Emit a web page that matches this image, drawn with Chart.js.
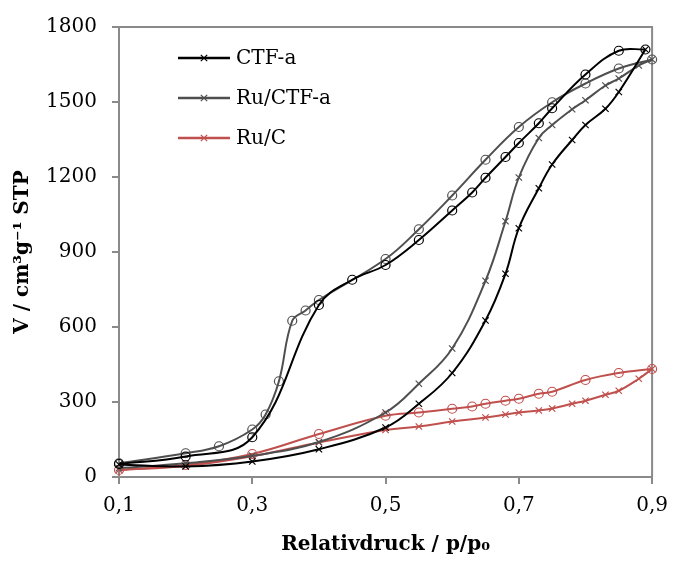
<!DOCTYPE html>
<html>
<head>
<meta charset="utf-8">
<script src="https://cdn.jsdelivr.net/npm/chart.js@4.4.1/dist/chart.umd.min.js"></script>
<style>
  html, body { margin: 0; padding: 0; background: #fff; }
  #wrap { width: 678px; height: 561px; }
</style>
</head>
<body>
<div id="wrap"><canvas id="chart-container" width="678" height="561"></canvas></div>
<script>
// tick labels
const x_ticks = [0.1, 0.3, 0.5, 0.7, 0.9];
const y_ticks = [0, 300, 600, 900, 1200, 1500, 1800];

// CTF-a, adsorption (x) and desorption (o)
const ctf_ads_p = [0.1, 0.2, 0.3, 0.4, 0.5, 0.55, 0.6, 0.65, 0.68, 0.7, 0.73, 0.75, 0.78, 0.8, 0.83, 0.85, 0.89];
const ctf_ads_v = [50, 42, 62, 111, 198, 293, 416, 626, 813, 995, 1155, 1250, 1348, 1408, 1473, 1540, 1710];
const ctf_des_p = [0.89, 0.85, 0.8, 0.75, 0.73, 0.7, 0.68, 0.65, 0.63, 0.6, 0.55, 0.5, 0.45, 0.4, 0.3, 0.2, 0.1];
const ctf_des_v = [1710, 1705, 1610, 1475, 1415, 1336, 1280, 1197, 1138, 1066, 948, 848, 789, 688, 159, 82, 52];

// Ru/CTF-a
const ructf_ads_p = [0.1, 0.2, 0.3, 0.4, 0.5, 0.55, 0.6, 0.65, 0.68, 0.7, 0.73, 0.75, 0.78, 0.8, 0.83, 0.85, 0.88, 0.9];
const ructf_ads_v = [35, 55, 85, 140, 258, 373, 514, 785, 1023, 1198, 1356, 1408, 1471, 1507, 1566, 1594, 1646, 1670];
const ructf_des_p = [0.9, 0.85, 0.8, 0.75, 0.7, 0.65, 0.6, 0.55, 0.5, 0.4, 0.38, 0.36, 0.34, 0.32, 0.3, 0.25, 0.2, 0.1];
const ructf_des_v = [1670, 1634, 1574, 1499, 1400, 1269, 1126, 991, 872, 708, 666, 625, 383, 250, 190, 123, 95, 55];

// Ru/C
const ruc_ads_p = [0.1, 0.2, 0.3, 0.4, 0.5, 0.55, 0.6, 0.65, 0.68, 0.7, 0.73, 0.75, 0.78, 0.8, 0.83, 0.85, 0.88, 0.9];
const ruc_ads_v = [28, 44, 83, 138, 188, 202, 222, 238, 250, 258, 266, 274, 293, 305, 329, 345, 393, 432];
const ruc_des_p = [0.9, 0.85, 0.8, 0.75, 0.73, 0.7, 0.68, 0.65, 0.63, 0.6, 0.55, 0.5, 0.4, 0.3, 0.2, 0.1];
const ruc_des_v = [432, 416, 388, 341, 333, 313, 305, 293, 282, 273, 258, 245, 172, 92, 48, 28];

const FONT = "'DejaVu Serif', serif";
const AXIS_GREY = '#8a8a8a';

function pts(p, v) {
    return p.map((x, i) => ({x: x, y: v[i]}));
}

function series(label, p, v, color, marker, inLegend) {
    return {
        label: label,
        data: pts(p, v),
        showLine: true,
        borderColor: color,
        backgroundColor: 'rgba(0,0,0,0)',
        borderWidth: 2,
        tension: 0.4,
        pointStyle: marker,
        pointRadius: 4.5,
        pointBorderWidth: 1.2,
        pointBorderColor: color,
        pointBackgroundColor: 'rgba(0,0,0,0)',
        clip: false,
        inLegend: inLegend
    };
}

// legend drawn inside the plot, top left
const inner_legend = {
    id: 'innerLegend',
    afterDatasetsDraw(chart) {
        const ctx = chart.ctx;
        let row = 0;
        ctx.save();
        for (let ds of chart.data.datasets) {
            if (!ds.inLegend) continue;
            const y = 58 + row * 40;
            ctx.strokeStyle = ds.borderColor;
            ctx.lineWidth = 2.5;
            ctx.beginPath();
            ctx.moveTo(178, y);
            ctx.lineTo(230, y);
            ctx.stroke();
            ctx.lineWidth = 1.2;
            Chart.helpers.drawPoint(ctx, {pointStyle: 'crossRot', radius: 4.5, rotation: 0, borderWidth: 1.2}, 204, y);
            ctx.fillStyle = '#000';
            ctx.font = '20px ' + FONT;
            ctx.textBaseline = 'middle';
            ctx.textAlign = 'left';
            ctx.fillText(ds.label, 236, y + 1);
            row++;
        }
        ctx.restore();
    }
};

// top and right frame of the plot area
const plot_frame = {
    id: 'plotFrame',
    beforeDatasetsDraw(chart) {
        const a = chart.chartArea;
        const ctx = chart.ctx;
        ctx.save();
        ctx.strokeStyle = AXIS_GREY;
        ctx.lineWidth = 2;
        ctx.beginPath();
        ctx.moveTo(a.left, a.top);
        ctx.lineTo(a.right, a.top);
        ctx.lineTo(a.right, a.bottom);
        ctx.stroke();
        ctx.restore();
    }
};

const canv = document.querySelector('#chart-container');
new Chart(canv, {
    type: 'scatter',
    data: {
        datasets: [
            series('CTF-a', ctf_ads_p, ctf_ads_v, '#000000', 'crossRot', true),
            series('CTF-a des', ctf_des_p, ctf_des_v, '#000000', 'circle', false),
            series('Ru/CTF-a', ructf_ads_p, ructf_ads_v, '#4f4f4f', 'crossRot', true),
            series('Ru/CTF-a des', ructf_des_p, ructf_des_v, '#4f4f4f', 'circle', false),
            series('Ru/C', ruc_ads_p, ruc_ads_v, '#c0504d', 'crossRot', true),
            series('Ru/C des', ruc_des_p, ruc_des_v, '#c0504d', 'circle', false)
        ]
    },
    options: {
        responsive: false,
        animation: false,
        layout: { padding: { left: 0, right: 20, top: 23, bottom: 0 } },
        plugins: {
            legend: { display: false },
            tooltip: { enabled: false }
        },
        scales: {
            x: {
                type: 'linear',
                min: 0.1,
                max: 0.9,
                afterBuildTicks: (s) => { s.ticks = x_ticks.map((v) => ({value: v})); },
                afterFit: (s) => { s.height = 84; },
                ticks: {
                    color: '#000',
                    font: { family: FONT, size: 20 },
                    padding: 10,
                    maxRotation: 0,
                    callback: (v) => v.toFixed(1).replace('.', ',')
                },
                grid: { drawOnChartArea: false, drawTicks: true, tickLength: 7, color: AXIS_GREY, lineWidth: 2 },
                border: { color: AXIS_GREY, width: 2 },
                title: {
                    display: true,
                    text: 'Relativdruck / p/p\u2080',
                    color: '#000',
                    font: { family: FONT, size: 20, weight: 'bold' },
                    padding: { top: 0, bottom: 4 }
                }
            },
            y: {
                min: 0,
                max: 1800,
                afterBuildTicks: (s) => { s.ticks = y_ticks.map((v) => ({value: v})); },
                afterFit: (s) => { s.width = 119; },
                ticks: {
                    color: '#000',
                    font: { family: FONT, size: 20 },
                    padding: 15,
                    callback: (v) => String(v)
                },
                grid: { drawOnChartArea: false, drawTicks: true, tickLength: 7, color: AXIS_GREY, lineWidth: 2 },
                border: { color: AXIS_GREY, width: 2 },
                title: {
                    display: true,
                    text: 'V / cm\u00b3g\u207b\u00b9 STP',
                    color: '#000',
                    font: { family: FONT, size: 20, weight: 'bold' },
                    padding: { top: 11, bottom: 0 }
                }
            }
        }
    },
    plugins: [plot_frame, inner_legend]
});
</script>
</body>
</html>
